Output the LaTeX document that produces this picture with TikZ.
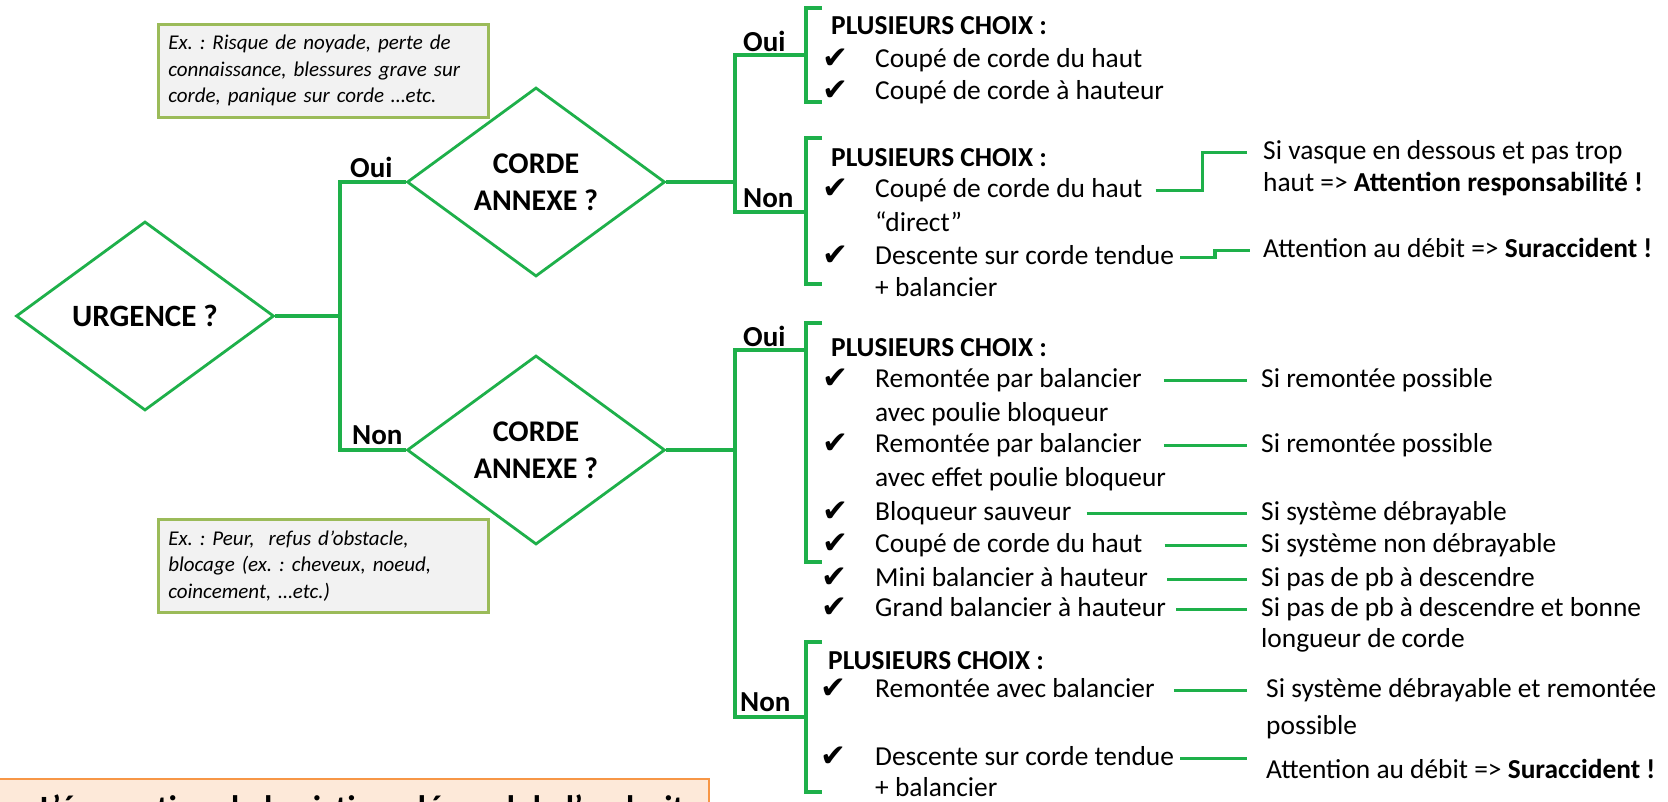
\documentclass[tikz,border=0pt]{standalone}
\usepackage{fontspec}
\setmainfont{Carlito}
\newfontfamily\dejavu{DejaVu Sans}
\usetikzlibrary{shapes.geometric}
\definecolor{lg}{RGB}{30,176,74}
\definecolor{ob}{RGB}{155,187,89}
\definecolor{nf}{RGB}{242,242,242}
\definecolor{orB}{RGB}{247,150,70}
\definecolor{orF}{RGB}{253,233,217}
\newcommand\ftxt{\fontsize{27.4}{33}\selectfont}
\newcommand\fdia{\fontsize{30}{37}\selectfont\bfseries}
\newcommand\flbl{\fontsize{29}{34}\selectfont\bfseries}
\newcommand\fchk{\dejavu\fontsize{31}{34}\selectfont}
\newcommand\fnote{\fontsize{21}{26.5}\selectfont\itshape\frenchspacing}
\frenchspacing
\begin{document}
\begin{tikzpicture}[x=1pt,y=-1pt,line join=miter,
  conn/.style={draw=lg,line width=3.3pt},
  dia/.style={diamond,draw=lg,line width=2.8pt,inner sep=0pt,align=center,font=\fdia,minimum width=258pt,minimum height=189pt},
  lbl/.style={anchor=base west,inner sep=0pt,font=\flbl},
  txt/.style={anchor=base west,inner sep=0pt,font=\ftxt,text height=20pt,text depth=7pt},
  hdr/.style={txt,font=\ftxt\bfseries},
  chk/.style={anchor=base west,inner sep=0pt,font=\fchk},
  note/.style={draw=ob,fill=nf,line width=2.5pt,anchor=north west,minimum height=93pt,inner xsep=10pt,inner ysep=0pt,align=left,text width=310pt,font=\fnote}]
\useasboundingbox (0,0) rectangle (1668,801);
\clip (0,0) rectangle (1668,801);
\fill[white] (0,0) rectangle (1668,801);

% notes
\node[note] (n1) at (157,23) {Ex. : Risque de noyade, perte de\\connaissance, blessures grave sur\\corde, panique sur corde …etc.};
\node[note] (n2) at (157,518) {Ex. : Peur,\ \ refus d’obstacle,\\blocage (ex. : cheveux, noeud,\\coincement, …etc.)};

% orange box (cropped by the picture's lower edge)
\node[draw=orB,fill=orF,line width=2pt,anchor=north west,minimum width=720pt,minimum height=80pt,inner sep=0pt] (ob) at (-12,778) {};
\node[anchor=base west,inner sep=0pt,font=\fontsize{34}{40}\selectfont\bfseries] (obt) at (40,819) {L’évacuation de la victime dépend de l’endroit};

% diamonds
\node[dia,font=\fontsize{31}{37}\selectfont\bfseries] (urg) at (145,316) {URGENCE ?};
\node[dia] (c1) at (536,182) {CORDE\\ANNEXE ?};
\node[dia] (c2) at (536,450) {CORDE\\ANNEXE ?};

% labels
\node[lbl] (lo1) at (350,177) {Oui};
\node[lbl] (ln1) at (352,444) {Non};
\node[lbl] (lo2) at (743,51) {Oui};
\node[lbl] (ln2) at (743,207) {Non};
\node[lbl] (lo3) at (743,346) {Oui};
\node[lbl] (ln3) at (740,711) {Non};

% left trunk
\coordinate (tL) at (340,316);
\draw[conn] (urg.east) -- (tL);
\draw[conn] (c1.west) -- (c1.west -| tL) -- (c2.west -| tL) -- (c2.west);

% right trunks
\coordinate (xR) at (735,0);
\coordinate (j1) at (806,55);
\coordinate (j2) at (806,212);
\coordinate (j3) at (806,350);
\coordinate (j4) at (806,717);
\draw[conn] (c1.east) -- (c1.east -| xR);
\draw[conn] (j1) -- (j1 -| xR) -- (j2 -| xR) -- (j2);
\draw[conn] (c2.east) -- (c2.east -| xR);
\draw[conn] (j3) -- (j3 -| xR) -- (j4 -| xR) -- (j4);

% brackets
\coordinate (b1t) at (806,8);   \coordinate (b1b) at (806,102);
\coordinate (b2t) at (806,138); \coordinate (b2b) at (806,284);
\coordinate (b3t) at (806,323); \coordinate (b3b) at (806,562);
\coordinate (b4t) at (806,642); \coordinate (b4b) at (806,792);
\draw[conn] (b1t) ++(16,0) -- (b1t) -- (b1b) -- ++(16,0);
\draw[conn] (b2t) ++(16,0) -- (b2t) -- (b2b) -- ++(16,0);
\draw[conn] (b3t) ++(16,0) -- (b3t) -- (b3b) -- ++(16,0);
\draw[conn] (b4t) ++(16,0) -- (b4t) -- (b4b) -- ++(16,0);

% group 1
\node[hdr] (h1) at (831,34) {PLUSIEURS CHOIX :};
\node[chk] (k1a) at (822,68) {✔};
\node[txt] (s1a) at (875,67) {Coupé de corde du haut};
\node[chk] (k1b) at (822,100) {✔};
\node[txt] (s1b) at (875,99) {Coupé de corde à hauteur};

% group 2
\node[hdr] (h2) at (831,166) {PLUSIEURS CHOIX :};
\node[chk] (k2a) at (822,198) {✔};
\node[txt] (s2a) at (875,197) {Coupé de corde du haut};
\node[txt] (s2b) at (875,231) {“direct”};
\node[chk] (k2c) at (822,265) {✔};
\node[txt] (s2c) at (875,264) {Descente sur corde tendue};
\node[txt] (s2d) at (875,296) {+ balancier};
\node[txt] (r2a) at (1263,159) {Si vasque en dessous et pas trop};
\node[txt] (r2b) at (1263,191) {haut => \textbf{Attention responsabilité !}};
\node[txt] (r2c) at (1263,257) {Attention au débit => \textbf{Suraccident !}};
\draw[conn] ([xshift=13pt]s2a.east) -- ++(47,0) |- ([xshift=-16pt]r2a.west);
\draw[conn] ([xshift=6pt]s2c.east) -- ++(35,0) |- ([xshift=-13pt]r2c.west);

% group 3
\node[hdr] (h3) at (831,356) {PLUSIEURS CHOIX :};
\node[chk] (k3a) at (822,388) {✔};
\node[txt] (s3a) at (875,387) {Remontée par balancier};
\node[txt] (s3a2) at (875,421) {avec poulie bloqueur};
\node[txt] (r3a) at (1261,387) {Si remontée possible};
\node[chk] (k3b) at (822,453) {✔};
\node[txt] (s3b) at (875,452) {Remontée par balancier};
\node[txt] (s3b2) at (875,486) {avec effet poulie bloqueur};
\node[txt] (r3b) at (1261,452) {Si remontée possible};
\node[chk] (k3c) at (822,521) {✔};
\node[txt] (s3c) at (875,520) {Bloqueur sauveur};
\node[txt] (r3c) at (1261,520) {Si système débrayable};
\node[chk] (k3d) at (822,553) {✔};
\node[txt] (s3d) at (875,552) {Coupé de corde du haut};
\node[txt] (r3d) at (1261,552) {Si système non débrayable};
\node[chk] (k3e) at (821,587) {✔};
\node[txt] (s3e) at (875,586) {Mini balancier à hauteur};
\node[txt] (r3e) at (1261,586) {Si pas de pb à descendre};
\node[chk] (k3f) at (821,617) {✔};
\node[txt] (s3f) at (875,616) {Grand balancier à hauteur};
\node[txt] (r3f) at (1261,616) {Si pas de pb à descendre et bonne};
\node[txt] (r3f2) at (1261,647) {longueur de corde};
\draw[conn] ([xshift=22pt]s3a.east) -- ([xshift=-14pt]r3a.west);
\draw[conn] ([xshift=22pt]s3b.east) -- ([xshift=-14pt]r3b.west);
\draw[conn] ([xshift=15pt]s3c.east) -- ([xshift=-14pt]r3c.west);
\draw[conn] ([xshift=22pt]s3d.east) -- ([xshift=-14pt]r3d.west);
\draw[conn] ([xshift=19pt]s3e.east) -- ([xshift=-14pt]r3e.west);
\draw[conn] ([xshift=10pt]s3f.east) -- ([xshift=-14pt]r3f.west);

% group 4
\node[hdr] (h4) at (828,669) {PLUSIEURS CHOIX :};
\node[chk] (k4a) at (820,698) {✔};
\node[txt] (s4a) at (875,697) {Remontée avec balancier};
\node[txt] (r4a) at (1266,697) {Si système débrayable et remontée};
\node[txt] (r4a2) at (1266,734) {possible};
\node[chk] (k4b) at (820,766) {✔};
\node[txt] (s4b) at (875,765) {Descente sur corde tendue};
\node[txt,text depth=0pt] (s4b2) at (875,796) {+ balancier};
\node[txt] (r4b) at (1266,778) {Attention au débit => \textbf{Suraccident !}};
\draw[conn] ([xshift=19pt]s4a.east) -- ([xshift=-19pt]r4a.west);
\draw[conn] ([xshift=6pt]s4b.east) -- ([xshift=-19pt,yshift=13pt]r4b.west);
\end{tikzpicture}
\end{document}
